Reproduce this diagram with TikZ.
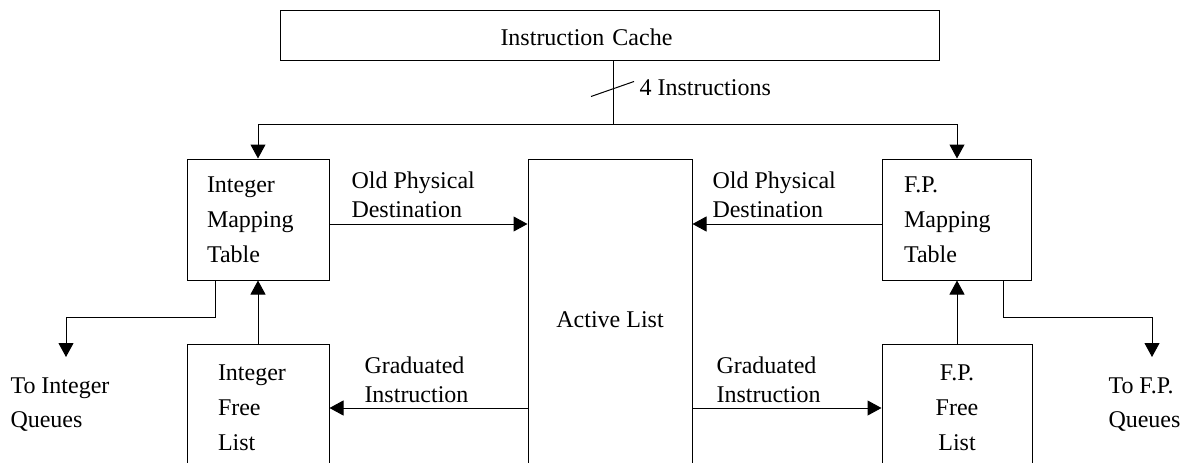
\documentclass[tikz,border=0pt]{standalone}
\usepackage{fontspec}
\setmainfont{Liberation Serif}
\usetikzlibrary{arrows.meta}
\begin{document}
\begin{tikzpicture}[x=1pt,y=-1pt,line width=1pt,
  box/.style={draw,line width=1pt,inner sep=0pt},
  arr/.style={-{Triangle[length=14pt,width=15pt]}},
  boxtext/.style={font=\fontsize{24}{35}\selectfont},
  lbl/.style={font=\fontsize{24}{29}\selectfont,align=left,inner sep=0pt,anchor=west}]
\useasboundingbox (0,0) rectangle (1183,463);
\clip (0,0) rectangle (1183,463);

% blocks
\node[box,font=\fontsize{24}{26}\selectfont,align=left,text width=219pt,inner xsep=220pt,
      minimum height=50pt,text height=20pt,text depth=0pt] (cache) at (610,35) {Instruction Cache};
\node[box,boxtext,align=left,inner xsep=20pt,text width=102pt,minimum height=121pt] (imap) at (258,219.5) {Integer\\Mapping\\Table};
\node[box,boxtext,align=left,inner xsep=21.5pt,text width=106pt,minimum height=121pt] (fmap) at (957,219.5) {F.P.\\Mapping\\Table};
\node[box,boxtext,minimum width=164pt,minimum height=321pt] (active) at (610,319.5) {Active List};
\node[box,boxtext,align=left,inner xsep=31pt,text width=80pt,minimum height=128pt] (ifree) at (258,408) {Integer\\Free\\List};
\node[box,boxtext,align=center,minimum width=150pt,minimum height=128pt] (ffree) at (957,408) {F.P.\\Free\\List};

% instruction bus
\coordinate (bus) at (613,124);
\draw (cache.south -| bus) -- (bus);
\draw ([shift={(-22,36)}]cache.south -| bus) -- ([shift={(21,21)}]cache.south -| bus);
\node[lbl] (width) at (639,88) {4 Instructions};
\draw[arr] (bus) -| (imap.north);
\draw[arr] (bus) -| (fmap.north);

% old physical destinations
\coordinate (oldy) at (0,224);
\draw[arr] (imap.east |- oldy) -- (active.west |- oldy);
\draw[arr] (fmap.west |- oldy) -- (active.east |- oldy);
\node[lbl] (oldl) at (351,194.5) {Old Physical\\Destination};
\node[lbl] (oldr) at (712,194.5) {Old Physical\\Destination};

% graduated instructions
\draw[arr] (active.west |- ifree.east) -- (ifree.east);
\draw[arr] (active.east |- ffree.west) -- (ffree.west);
\node[lbl] (gradl) at (364,380) {Graduated\\Instruction};
\node[lbl] (gradr) at (716,380) {Graduated\\Instruction};

% free lists feed mapping tables
\draw[arr] (ifree.north) -- (imap.south);
\draw[arr] (ffree.north) -- (fmap.south);

% to the queues
\coordinate (iq) at (66,357);
\coordinate (fq) at (1152,357);
\draw[arr] ([xshift=-43pt]imap.south) -- ++(0,37) -| (iq);
\draw[arr] ([xshift=46pt]fmap.south) -- ++(0,37) -| (fq);
\node[lbl,font=\fontsize{24}{34}\selectfont] (toi) at (10,405) {To Integer\\Queues};
\node[lbl,font=\fontsize{24}{34}\selectfont] (tof) at (1108,405) {To F.P.\\Queues};
\end{tikzpicture}
\end{document}
